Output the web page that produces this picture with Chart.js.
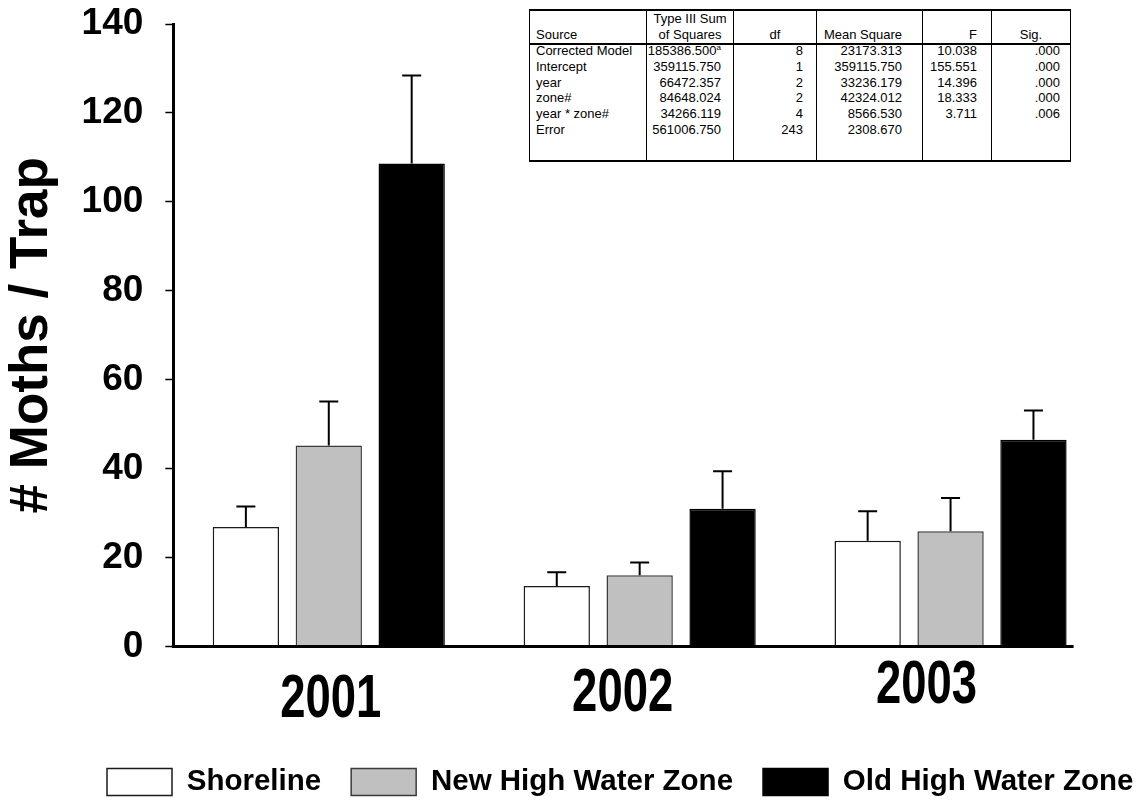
<!DOCTYPE html>
<html>
<head>
<meta charset="utf-8">
<script src="https://cdn.jsdelivr.net/npm/chart.js@4.4.1/dist/chart.umd.min.js"></script>
<style>
  html, body { margin: 0; padding: 0; background: #fff; }
  #wrap { position: relative; width: 1137px; height: 802px; overflow: hidden; }
  #c { position: absolute; left: 0; top: 0; }
  table.anova {
    position: absolute; left: 529px; top: 9px; width: 541px;
    border-collapse: collapse; table-layout: fixed; background: #fff;
    font: 13px "Liberation Sans", Arial, sans-serif; line-height: 15.8px; color: #000;
    border-top: 2px solid #000; border-bottom: 2px solid #000;
    border-left: 1.5px solid #000; border-right: 1.5px solid #000;
  }
  .anova th, .anova td { padding: 0; white-space: nowrap; border-left: 1.5px solid #000; }
  .anova th { font-weight: normal; vertical-align: bottom; height: 32px; text-align: center; border-bottom: 2px solid #000; }
  .anova td { text-align: right; }
  .anova td span { position: relative; top: -2px; }
  .anova th.src, .anova td.src { text-align: left; padding-left: 6px; }
  .anova td.c1 { padding-right: 12px; }
  .anova td.c2 { padding-right: 13px; }
  .anova td.c3, .anova th.c3 { padding-right: 20px; text-align: right; }
  .anova td.c4, .anova th.c4 { padding-right: 14px; text-align: right; }
  .anova td.c5 { padding-right: 10px; }
  .anova tr.last td { padding-bottom: 20px; }
  .anova sup { font-size: 8px; line-height: 0; vertical-align: 5px; }
</style>
</head>
<body>
<div id="wrap">
  <canvas id="c" width="1137" height="802"></canvas>
  <table class="anova" id="anova">
    <colgroup>
      <col style="width:117px"><col style="width:87px"><col style="width:83px">
      <col style="width:106px"><col style="width:69px"><col style="width:79px">
    </colgroup>
    <thead id="anovaHead"></thead>
    <tbody id="anovaBody"></tbody>
  </table>
</div>
<script>
// Mean moths per trap by year and zone, with upper standard-error whiskers
const years = ['2001', '2002', '2003'];
const zoneNames = ['Shoreline', 'New High Water Zone', 'Old High Water Zone'];
const shorelineMean = [26.9, 13.6, 23.8];
const newZoneMean = [45.2, 16.0, 25.9];
const oldZoneMean = [108.6, 31.0, 46.5];
const shorelineSE = [4.6, 3.1, 6.6];
const newZoneSE = [9.9, 2.9, 7.5];
const oldZoneSE = [19.8, 8.4, 6.6];
const yMin = 0, yMax = 140, yStep = 20;

// ANOVA summary (tests of between-subjects effects)
const anovaHeaders = ['Source', 'Type III Sum<br>of Squares', 'df', 'Mean Square', 'F', 'Sig.'];
const anovaSources = ['Corrected Model', 'Intercept', 'year', 'zone#', 'year * zone#', 'Error'];
const anovaSS = ['185386.500', '359115.750', '66472.357', '84648.024', '34266.119', '561006.750'];
const anovaSSNote = ['a', '', '', '', '', ''];
const anovaDf = ['8', '1', '2', '2', '4', '243'];
const anovaMS = ['23173.313', '359115.750', '33236.179', '42324.012', '8566.530', '2308.670'];
const anovaF = ['10.038', '155.551', '14.396', '18.333', '3.711', ''];
const anovaSig = ['.000', '.000', '.000', '.000', '.006', ''];

(function buildTable() {
  const head = document.getElementById('anovaHead');
  const tr = document.createElement('tr');
  anovaHeaders.forEach((h, i) => {
    const th = document.createElement('th');
    th.innerHTML = h;
    th.className = i === 0 ? 'src' : 'c' + i;
    tr.appendChild(th);
  });
  head.appendChild(tr);
  const body = document.getElementById('anovaBody');
  anovaSources.forEach((s, r) => {
    const row = document.createElement('tr');
    if (r === anovaSources.length - 1) row.className = 'last';
    const cells = [s, anovaSS[r], anovaDf[r], anovaMS[r], anovaF[r], anovaSig[r]];
    cells.forEach((v, i) => {
      const td = document.createElement('td');
      td.className = i === 0 ? 'src' : 'c' + i;
      const span = document.createElement('span');
      span.textContent = v;
      if (i === 1 && anovaSSNote[r]) {
        const sup = document.createElement('sup');
        sup.textContent = anovaSSNote[r];
        span.appendChild(sup);
      }
      td.appendChild(span);
      row.appendChild(td);
    });
    body.appendChild(row);
  });
})();

const FONT = '"Liberation Sans", Arial, sans-serif';
const errors = [shorelineSE, newZoneSE, oldZoneSE];

// upper whiskers with caps on every bar
const errorBarPlugin = {
  id: 'errorBars',
  afterDatasetsDraw(chart) {
    const ctx = chart.ctx;
    const y = chart.scales.y;
    ctx.save();
    ctx.strokeStyle = '#000';
    ctx.lineWidth = 2;
    chart.data.datasets.forEach((ds, i) => {
      const meta = chart.getDatasetMeta(i);
      meta.data.forEach((bar, j) => {
        const top = y.getPixelForValue(ds.data[j] + errors[i][j]);
        ctx.beginPath();
        ctx.moveTo(bar.x, bar.y);
        ctx.lineTo(bar.x, top);
        ctx.moveTo(bar.x - 9.5, top);
        ctx.lineTo(bar.x + 9.5, top);
        ctx.stroke();
      });
    });
    ctx.restore();
  }
};

// baseline and condensed year labels under each group
const yearNudgeX = [2, -17, -24];
const yearNudgeY = [54, 48, 40];
const categoryAxisPlugin = {
  id: 'categoryAxis',
  afterDraw(chart) {
    const ctx = chart.ctx;
    const xs = chart.scales.x, ys = chart.scales.y;
    const base = ys.getPixelForValue(0);
    const lastMeta = chart.getDatasetMeta(chart.data.datasets.length - 1);
    const lastBar = lastMeta.data[lastMeta.data.length - 1];
    const end = lastBar.x + lastBar.width / 2 + 7;
    ctx.save();
    ctx.strokeStyle = '#000';
    ctx.lineWidth = 3;
    ctx.beginPath();
    ctx.moveTo(chart.chartArea.left - 1.5, base);
    ctx.lineTo(end, base);
    ctx.stroke();
    ctx.fillStyle = '#000';
    ctx.font = 'bold 61px ' + FONT;
    ctx.textAlign = 'center';
    ctx.textBaseline = 'middle';
    years.forEach((label, i) => {
      const x = xs.getPixelForValue(i) + yearNudgeX[i];
      const yy = base + yearNudgeY[i];
      ctx.save();
      ctx.translate(x, yy);
      ctx.scale(0.745, 1);
      ctx.fillText(label, 0, 0);
      ctx.restore();
    });
    ctx.restore();
  }
};

// place the legend row along the bottom edge
const legendPlacePlugin = {
  id: 'legendPlace',
  afterLayout(chart) {
    const lg = chart.legend;
    if (!lg || !lg.lineWidths) return;
    const pad = lg.options.labels.padding;
    const lw = lg.lineWidths[0];
    const shift = (2 * 107 - pad + lw - (lg.left + lg.right)) / 2;
    lg.left += shift;
    lg.right += shift;
    const itemH = Math.max(lg.options.labels.font.size, lg.options.labels.boxHeight);
    const top = 782 - pad - itemH / 2;
    lg.bottom = top + lg.height;
    lg.top = top;
  }
};

new Chart(document.getElementById('c'), {
  type: 'bar',
  data: {
    labels: years,
    datasets: [
      { label: zoneNames[0], data: shorelineMean, backgroundColor: '#ffffff', borderColor: '#1a1a1a', borderWidth: 1.5 },
      { label: zoneNames[1], data: newZoneMean, backgroundColor: '#c0c0c0', borderColor: '#3a3a3a', borderWidth: 1.5 },
      { label: zoneNames[2], data: oldZoneMean, backgroundColor: '#000000', borderColor: '#000000', borderWidth: 1.5 }
    ]
  },
  options: {
    responsive: false,
    animation: false,
    devicePixelRatio: 1,
    categoryPercentage: 0.8,
    barPercentage: 0.8,
    layout: { padding: { left: 0, right: 31, top: 24, bottom: 86 } },
    plugins: {
      tooltip: { enabled: false },
      legend: {
        position: 'bottom',
        labels: {
          color: '#000',
          font: { family: FONT, size: 29.5, weight: 'bold' },
          boxWidth: 65,
          boxHeight: 27,
          padding: 30
        }
      }
    },
    scales: {
      x: {
        grid: { display: false, drawTicks: false },
        border: { display: false },
        ticks: { display: false }
      },
      y: {
        min: yMin,
        max: yMax,
        ticks: {
          stepSize: yStep,
          color: '#000',
          padding: 22,
          font: { family: FONT, size: 37, weight: 'bold', lineHeight: 0.05 }
        },
        grid: { display: true, drawOnChartArea: false, drawTicks: true, tickLength: 8, tickColor: '#000', tickWidth: 1.5 },
        border: { display: true, color: '#000', width: 3 },
        title: {
          display: true,
          text: '# Moths / Trap',
          color: '#000',
          font: { family: FONT, size: 53, weight: 'bold', lineHeight: 0.8 },
          padding: { top: 11.6, bottom: 5.6 }
        }
      }
    }
  },
  plugins: [errorBarPlugin, categoryAxisPlugin, legendPlacePlugin]
});
</script>
</body>
</html>
